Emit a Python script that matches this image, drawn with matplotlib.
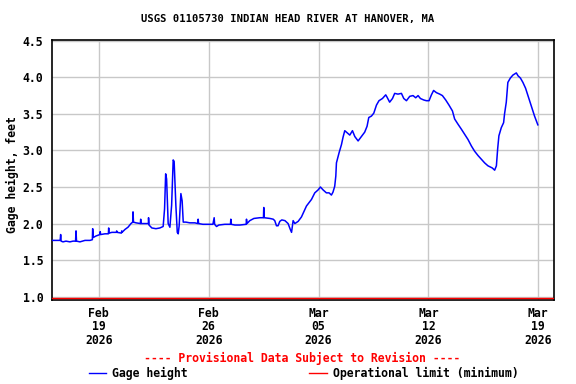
import matplotlib
matplotlib.use("Agg")
import matplotlib.pyplot as plt
import matplotlib.dates as mdates
from datetime import datetime, timedelta

# ---- data ----
start = datetime(2026, 2, 16)
days = [0.00, 0.27, 0.54, 0.57, 0.60, 0.72, 0.91, 1.16, 1.36, 1.52, 1.55, 1.58, 1.80, 2.12, 2.44,
        2.59, 2.61, 2.65, 2.82, 3.07, 3.09, 3.12, 3.39, 3.61, 3.63, 3.65, 3.84, 4.12, 4.14, 4.16,
        4.44, 4.46, 4.48, 4.67, 4.86, 5.05, 5.16, 5.18, 5.21, 5.37, 5.65, 5.67, 5.69, 5.94, 6.16,
        6.17, 6.20, 6.38, 6.64, 6.89, 7.10, 7.19, 7.26, 7.32, 7.42, 7.53, 7.64, 7.74, 7.80, 7.91,
        8.00, 8.06, 8.12, 8.23, 8.31, 8.38, 8.55, 8.80, 9.12, 9.31, 9.33, 9.36, 9.63, 9.95, 10.27,
        10.35, 10.38, 10.50, 10.65, 11.03, 11.39, 11.41, 11.44, 11.67, 11.99, 12.39, 12.41, 12.44,
        12.62, 12.88, 13.26, 13.49, 13.51, 13.54, 13.90, 14.11, 14.21, 14.32, 14.42, 14.53, 14.66,
        14.86, 15.06, 15.20, 15.28, 15.38, 15.49, 15.70, 15.91, 16.23, 16.55, 16.76, 16.97, 17.12,
        17.29, 17.50, 17.67, 17.82, 17.92, 18.03, 18.10, 18.14, 18.31, 18.46, 18.56, 18.67, 18.78,
        18.99, 19.16, 19.31, 19.52, 19.73, 19.94, 20.09, 20.20, 20.37, 20.52, 20.69, 20.85, 21.07,
        21.28, 21.36, 21.53, 21.71, 21.85, 22.06, 22.28, 22.43, 22.60, 22.81, 23.02, 23.19, 23.34,
        23.49, 23.70, 23.87, 24.04, 24.19, 24.33, 24.51, 24.72, 24.89, 25.10, 25.31, 25.53, 25.67,
        25.88, 26.10, 26.31, 26.52, 26.74, 26.94, 27.16, 27.37, 27.58, 27.79, 28.07, 28.22, 28.33,
        28.41, 28.49, 28.64, 28.79, 28.85, 28.96, 29.06, 29.22, 29.38, 29.60, 29.71, 29.86, 30.02,
        30.19, 30.34, 30.55, 30.76, 30.97]
gage = [1.77, 1.77, 1.77, 1.85, 1.76, 1.75, 1.76, 1.75, 1.76, 1.76, 1.90, 1.76, 1.75, 1.77, 1.77,
        1.78, 1.93, 1.81, 1.83, 1.85, 1.89, 1.85, 1.86, 1.86, 1.94, 1.87, 1.88, 1.88, 1.90, 1.88,
        1.87, 1.90, 1.88, 1.92, 1.95, 2.00, 2.02, 2.16, 2.02, 2.01, 2.00, 2.06, 2.00, 2.00, 2.00,
        2.08, 1.98, 1.94, 1.93, 1.94, 1.96, 2.20, 2.68, 2.61, 2.00, 1.95, 2.25, 2.87, 2.85, 2.25,
        1.88, 1.86, 1.97, 2.41, 2.31, 2.02, 2.02, 2.01, 2.01, 2.00, 2.06, 2.00, 1.99, 1.99, 1.99,
        2.08, 1.99, 1.96, 1.98, 1.99, 1.99, 2.06, 1.99, 1.98, 1.98, 1.99, 2.06, 2.00,
        2.04, 2.07, 2.08, 2.08, 2.22, 2.08, 2.07, 2.06, 2.04, 1.97, 1.97, 2.03, 2.05,
        2.04, 2.00, 1.92, 1.88, 2.04, 2.00, 2.03, 2.09, 2.24, 2.33, 2.42, 2.46, 2.50,
        2.46, 2.42, 2.42, 2.39, 2.43, 2.51, 2.65, 2.83, 2.97, 3.08, 3.18, 3.27, 3.25,
        3.21, 3.27, 3.19, 3.13, 3.19, 3.25, 3.33, 3.45, 3.47, 3.51, 3.62, 3.68, 3.71,
        3.76, 3.73, 3.66, 3.71, 3.78, 3.77, 3.78, 3.71, 3.68, 3.74, 3.75, 3.72, 3.75,
        3.71, 3.69, 3.68, 3.68, 3.76, 3.82, 3.79, 3.77, 3.75, 3.69, 3.62, 3.54, 3.43,
        3.36, 3.29, 3.22, 3.15, 3.06, 2.99, 2.93, 2.88, 2.83, 2.79, 2.76, 2.73, 2.79,
        3.02, 3.20, 3.31, 3.38, 3.50, 3.66, 3.93, 3.99, 4.03, 4.06, 4.02, 3.99, 3.93,
        3.85, 3.75, 3.61, 3.47, 3.35]
op_limit = 0.985
x_ticks = ["2026-02-19", "2026-02-26", "2026-03-05", "2026-03-12", "2026-03-19"]
x_tick_labels = ["Feb\n19\n2026", "Feb\n26\n2026", "Mar\n05\n2026", "Mar\n12\n2026", "Mar\n19\n2026"]
y_ticks = [1.0, 1.5, 2.0, 2.5, 3.0, 3.5, 4.0, 4.5]

times = [start + timedelta(days=d) for d in days]

FONT = "DejaVu Sans Mono"
FS = 8.3
plt.rcParams["font.family"] = FONT
plt.rcParams["font.weight"] = "bold"

fig = plt.figure(figsize=(5.76, 3.84), dpi=100)
ax = fig.add_axes([51.7 / 576, 84 / 384, (554 - 51.7) / 576, 260 / 384])

ax.plot(times, gage, color="#0000ff", lw=1.1, zorder=3)
ax.axhline(op_limit, color="#ff0000", lw=1.0, zorder=3)

ax.set_xlim(start, start + timedelta(days=32))
ax.set_ylim(0.955, 4.51)

ax.set_yticks(y_ticks)
ax.set_yticklabels([f"{v:.1f}" for v in y_ticks], fontsize=FS, fontweight="bold")
ax.set_xticks([mdates.date2num(datetime.strptime(t, "%Y-%m-%d")) for t in x_ticks])
ax.set_xticklabels(x_tick_labels, fontsize=FS, fontweight="bold", linespacing=1.05)
ax.tick_params(axis="both", length=0)
ax.tick_params(axis="y", pad=6)
ax.tick_params(axis="x", pad=5)
ax.grid(True, color="#c8c8c8", lw=1.0, zorder=0)
for s in ax.spines.values():
    s.set_linewidth(1.2)
    s.set_color("black")

fig.text(288 / 576, 1 - 19 / 384, "USGS 01105730 INDIAN HEAD RIVER AT HANOVER, MA",
         ha="center", va="center", fontsize=7.6, fontweight="bold")
fig.text(12 / 576, 1 - 175 / 384, "Gage height, feet", rotation=90,
         ha="center", va="center", fontsize=FS, fontweight="bold")
fig.text(302 / 576, 1 - 358 / 384, "---- Provisional Data Subject to Revision ----",
         ha="center", va="center", fontsize=FS, fontweight="bold", color="#ff0000")

# legend
ly = 1 - 373 / 384
fig.add_artist(plt.Line2D([89 / 576, 106 / 576], [ly, ly], color="#0000ff", lw=1.0))
fig.text(112 / 576, ly, "Gage height", ha="left", va="center", fontsize=FS, fontweight="bold")
fig.add_artist(plt.Line2D([309 / 576, 327 / 576], [ly, ly], color="#ff0000", lw=1.0))
fig.text(333 / 576, ly, "Operational limit (minimum)", ha="left", va="center",
         fontsize=FS, fontweight="bold")

fig.savefig("out.png", dpi=100)
